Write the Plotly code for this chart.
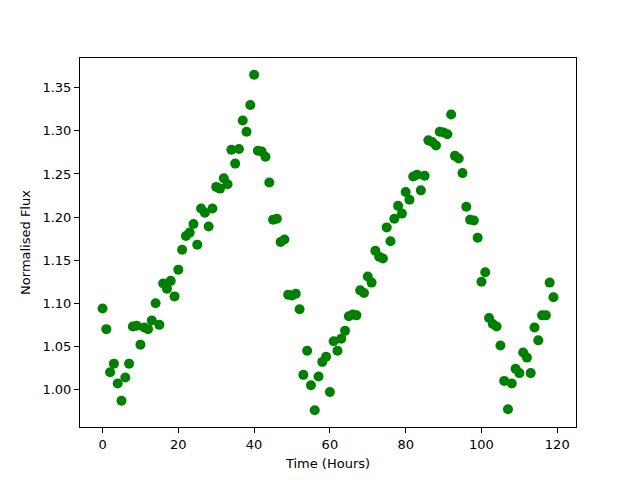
import plotly.graph_objects as go

hours = list(range(120))
flux = [
    1.094, 1.070, 1.020, 1.030, 1.007, 0.987, 1.014, 1.030, 1.073, 1.074,
    1.052, 1.072, 1.070, 1.080, 1.100, 1.075, 1.123, 1.117, 1.126, 1.108,
    1.139, 1.162, 1.178, 1.182, 1.192, 1.168, 1.210, 1.205, 1.189, 1.210,
    1.235, 1.233, 1.245, 1.238, 1.278, 1.262, 1.279, 1.312, 1.299, 1.330,
    1.365, 1.277, 1.276, 1.270, 1.240, 1.197, 1.198, 1.171, 1.174, 1.110,
    1.109, 1.111, 1.093, 1.017, 1.045, 1.005, 0.976, 1.015, 1.032, 1.038,
    0.997, 1.056, 1.045, 1.059, 1.068, 1.085, 1.087, 1.086, 1.115, 1.112,
    1.131, 1.124, 1.161, 1.154, 1.152, 1.188, 1.172, 1.198, 1.213, 1.204,
    1.229, 1.220, 1.247, 1.249, 1.231, 1.248, 1.289, 1.287, 1.283, 1.299,
    1.298, 1.296, 1.319, 1.271, 1.268, 1.251, 1.212, 1.197, 1.196, 1.176,
    1.125, 1.136, 1.083, 1.076, 1.073, 1.051, 1.010, 0.977, 1.007, 1.024,
    1.019, 1.043, 1.037, 1.019, 1.072, 1.057, 1.086, 1.086, 1.124, 1.107,
]
x_ticks = [0, 20, 40, 60, 80, 100, 120]
y_ticks = [1.00, 1.05, 1.10, 1.15, 1.20, 1.25, 1.30, 1.35]

fig = go.Figure()
fig.add_trace(go.Scatter(
    x=hours, y=flux, mode="markers",
    marker=dict(color="green", size=10, line=dict(width=0)),
    showlegend=False,
))

axis_common = dict(
    showline=True, linecolor="black", linewidth=1, mirror=True,
    ticks="outside", ticklen=5, tickwidth=1, tickcolor="black",
    showgrid=False, zeroline=False, automargin=False,
    tickfont=dict(family="DejaVu Sans", size=13, color="black"),
    title_font=dict(family="DejaVu Sans", size=13, color="black"),
)

fig.update_layout(
    width=640, height=480,
    margin=dict(l=72, r=72, t=50, b=61),
    plot_bgcolor="white", paper_bgcolor="white",
    xaxis=dict(range=[-5.95, 124.95], tickvals=x_ticks,
               ticktext=[str(v) for v in x_ticks],
               title=dict(text="Time (Hours)", standoff=8), **axis_common),
    yaxis=dict(range=[0.9565, 1.3845], tickvals=y_ticks,
               ticktext=[f"{v:.2f}" for v in y_ticks],
               title=dict(text="Normalised Flux", standoff=8), **axis_common),
)

fig.write_html("out.html")
